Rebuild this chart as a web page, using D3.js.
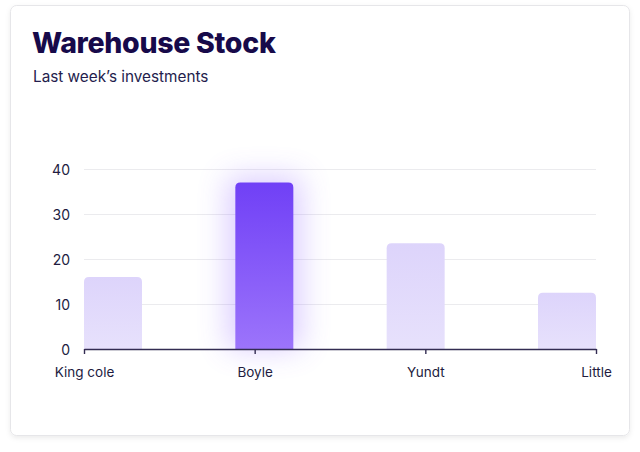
<!DOCTYPE html>
<html>
<head>
<meta charset="utf-8">
<script src="https://cdn.jsdelivr.net/npm/d3@7"></script>
<style>
  html, body { margin: 0; padding: 0; background: #ffffff; }
  body { width: 640px; height: 452px; overflow: hidden; }
  svg { display: block; }
</style>
</head>
<body>
<svg id="chart" width="640" height="452"></svg>
<script>
const categories = ["King cole", "Boyle", "Yundt", "Little"];
const values = [16, 37, 23.5, 12.5];
const highlighted = ["Boyle"];
const yTicks = [0, 10, 20, 30, 40];
const title = "Warehouse Stock";
const subtitle = "Last week\u2019s investments";

const svg = d3.select("#chart");
const defs = svg.append("defs");

const shadow = defs.append("filter").attr("id", "cardShadow")
  .attr("x", "-5%").attr("y", "-5%").attr("width", "110%").attr("height", "115%");
shadow.append("feDropShadow").attr("dx", 0).attr("dy", 2).attr("stdDeviation", 2.5)
  .attr("flood-color", "#000").attr("flood-opacity", 0.08);

const glow = defs.append("filter").attr("id", "glow")
  .attr("x", "-100%").attr("y", "-50%").attr("width", "300%").attr("height", "200%");
glow.append("feGaussianBlur").attr("stdDeviation", 15);

const gLight = defs.append("linearGradient").attr("id", "lightGrad")
  .attr("x1", 0).attr("y1", 0).attr("x2", 0).attr("y2", 1);
gLight.append("stop").attr("offset", "0%").attr("stop-color", "#ddd4fb");
gLight.append("stop").attr("offset", "100%").attr("stop-color", "#e7e1fc");

const gDark = defs.append("linearGradient").attr("id", "darkGrad")
  .attr("x1", 0).attr("y1", 0).attr("x2", 0).attr("y2", 1);
gDark.append("stop").attr("offset", "0%").attr("stop-color", "#7040f6");
gDark.append("stop").attr("offset", "100%").attr("stop-color", "#9c74fb");

svg.append("rect")
  .attr("x", 10.5).attr("y", 5.5).attr("width", 619).attr("height", 430)
  .attr("rx", 6).attr("fill", "#fff").attr("stroke", "#e6e6e9").attr("stroke-width", 1)
  .attr("filter", "url(#cardShadow)");

svg.append("text").attr("x", 32).attr("y", 53)
  .attr("font-family", "Inter, sans-serif").attr("font-weight", 800)
  .attr("font-size", 28.5).attr("fill", "#170a4a").attr("letter-spacing", -0.3)
  .text(title);
svg.append("text").attr("x", 33).attr("y", 82)
  .attr("font-family", "Inter, sans-serif").attr("font-weight", 400)
  .attr("font-size", 15.3).attr("fill", "#241d4d")
  .text(subtitle);

const x0 = 84, x1 = 596, yTop = 169, yBot = 349;
const barW = 58;

const x = d3.scalePoint().domain(categories).range([x0, x1]);
const barPos = d3.scaleLinear().domain([0, categories.length - 1]).range([x0, x1 - barW]);
const y = d3.scaleLinear().domain([0, 40]).range([yBot, yTop]);

svg.append("g").selectAll("line").data(yTicks.filter(t => t > 0)).join("line")
  .attr("x1", x0).attr("x2", x1)
  .attr("y1", d => y(d) + 0.5).attr("y2", d => y(d) + 0.5)
  .attr("stroke", "#ebebee").attr("stroke-width", 1);

const yAxis = svg.append("g").attr("transform", `translate(${x0},0)`)
  .call(d3.axisLeft(y).tickValues(yTicks).tickSize(0).tickPadding(14));
yAxis.select(".domain").remove();
yAxis.selectAll("text").attr("font-family", "Inter, sans-serif").attr("font-size", 14)
  .attr("fill", "#221c3f").attr("dy", "0.36em");

const bars = categories.map((c, i) => ({ c, v: values[i], i, hi: highlighted.includes(c) }));
svg.append("g").selectAll("rect").data(bars.filter(d => d.hi)).join("rect")
  .attr("x", d => barPos(d.i) - 8).attr("y", d => y(d.v) - 6)
  .attr("width", barW + 16).attr("height", d => yBot - y(d.v) + 6)
  .attr("fill", "#8a5cff").attr("opacity", 0.3).attr("filter", "url(#glow)");

function barPath(d) {
  const bx = barPos(d.i), by = y(d.v), bw = barW, bh = yBot - y(d.v), r = 5;
  return `M${bx},${by + bh}V${by + r}Q${bx},${by} ${bx + r},${by}H${bx + bw - r}Q${bx + bw},${by} ${bx + bw},${by + r}V${by + bh}Z`;
}
svg.append("g").selectAll("path").data(bars).join("path")
  .attr("d", barPath)
  .attr("fill", d => d.hi ? "url(#darkGrad)" : "url(#lightGrad)");

const xAxis = svg.append("g").attr("transform", `translate(0,${yBot})`)
  .call(d3.axisBottom(x).tickSize(5).tickPadding(13).tickSizeOuter(0));
xAxis.select(".domain").attr("stroke", "#332c52").attr("stroke-width", 1.6);
xAxis.selectAll(".tick line").attr("stroke", "#332c52").attr("stroke-width", 1.4);
xAxis.selectAll("text").attr("font-family", "Inter, sans-serif").attr("font-size", 13.5)
  .attr("fill", "#221c3f");
</script>
</body>
</html>
